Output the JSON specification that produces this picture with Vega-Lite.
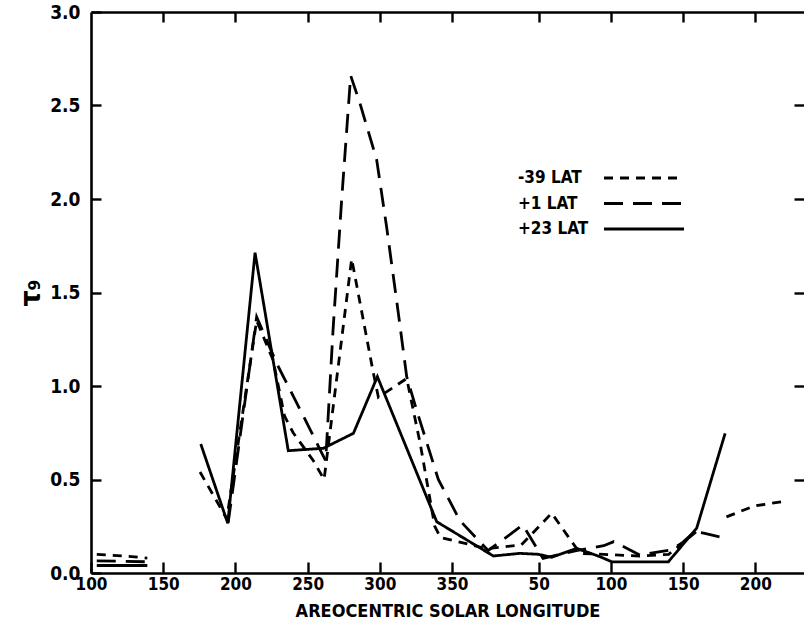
{
  "$schema": "https://vega.github.io/schema/vega-lite/v6.json",
  "width": 713,
  "height": 561,
  "autosize": {"type": "none"},
  "padding": {"left": 91, "top": 12, "right": 0, "bottom": 59},
  "background": "white",
  "config": {
    "view": {"stroke": null},
    "font": "Liberation Sans Narrow, DejaVu Sans Condensed, sans-serif",
    "axis": {"grid": false, "domainColor": "black", "tickColor": "black", "labelColor": "black", "titleColor": "black", "domainWidth": 2.6, "tickWidth": 2.4}
  },
  "data": {
    "values": [
      {"series": "-39 LAT", "seg": "a", "ls": 104, "tau": 0.10},
      {"series": "-39 LAT", "seg": "a", "ls": 125, "tau": 0.09},
      {"series": "-39 LAT", "seg": "a", "ls": 139, "tau": 0.08},
      {"series": "-39 LAT", "seg": "b", "ls": 175.5, "tau": 0.54},
      {"series": "-39 LAT", "seg": "b", "ls": 194, "tau": 0.29},
      {"series": "-39 LAT", "seg": "b", "ls": 214.7, "tau": 1.35},
      {"series": "-39 LAT", "seg": "b", "ls": 226, "tau": 1.14},
      {"series": "-39 LAT", "seg": "b", "ls": 234, "tau": 0.84},
      {"series": "-39 LAT", "seg": "b", "ls": 240, "tau": 0.75},
      {"series": "-39 LAT", "seg": "b", "ls": 254, "tau": 0.60},
      {"series": "-39 LAT", "seg": "b", "ls": 261.4, "tau": 0.50},
      {"series": "-39 LAT", "seg": "b", "ls": 280.5, "tau": 1.68},
      {"series": "-39 LAT", "seg": "b", "ls": 295.5, "tau": 1.07},
      {"series": "-39 LAT", "seg": "b", "ls": 299, "tau": 0.94},
      {"series": "-39 LAT", "seg": "b", "ls": 318.6, "tau": 1.04},
      {"series": "-39 LAT", "seg": "b", "ls": 328, "tau": 0.69},
      {"series": "-39 LAT", "seg": "b", "ls": 338, "tau": 0.25},
      {"series": "-39 LAT", "seg": "b", "ls": 342, "tau": 0.19},
      {"series": "-39 LAT", "seg": "b", "ls": 374, "tau": 0.13},
      {"series": "-39 LAT", "seg": "b", "ls": 398, "tau": 0.15},
      {"series": "-39 LAT", "seg": "b", "ls": 419, "tau": 0.32},
      {"series": "-39 LAT", "seg": "b", "ls": 438.6, "tau": 0.105},
      {"series": "-39 LAT", "seg": "b", "ls": 455, "tau": 0.10},
      {"series": "-39 LAT", "seg": "b", "ls": 480, "tau": 0.09},
      {"series": "-39 LAT", "seg": "b", "ls": 500, "tau": 0.10},
      {"series": "-39 LAT", "seg": "b", "ls": 519, "tau": 0.22},
      {"series": "-39 LAT", "seg": "c", "ls": 540, "tau": 0.30},
      {"series": "-39 LAT", "seg": "c", "ls": 559, "tau": 0.358},
      {"series": "-39 LAT", "seg": "c", "ls": 578, "tau": 0.381},
      {"series": "+1 LAT", "seg": "a", "ls": 104, "tau": 0.065},
      {"series": "+1 LAT", "seg": "a", "ls": 139, "tau": 0.06},
      {"series": "+1 LAT", "seg": "b", "ls": 195, "tau": 0.27},
      {"series": "+1 LAT", "seg": "b", "ls": 214.7, "tau": 1.37},
      {"series": "+1 LAT", "seg": "b", "ls": 228.6, "tau": 1.12},
      {"series": "+1 LAT", "seg": "b", "ls": 247, "tau": 0.84},
      {"series": "+1 LAT", "seg": "b", "ls": 258.6, "tau": 0.66},
      {"series": "+1 LAT", "seg": "b", "ls": 262.5, "tau": 0.60},
      {"series": "+1 LAT", "seg": "b", "ls": 267.6, "tau": 1.30},
      {"series": "+1 LAT", "seg": "b", "ls": 273.6, "tau": 2.0},
      {"series": "+1 LAT", "seg": "b", "ls": 279.8, "tau": 2.66},
      {"series": "+1 LAT", "seg": "b", "ls": 286.3, "tau": 2.51},
      {"series": "+1 LAT", "seg": "b", "ls": 297.8, "tau": 2.21},
      {"series": "+1 LAT", "seg": "b", "ls": 304.7, "tau": 1.85},
      {"series": "+1 LAT", "seg": "b", "ls": 312.8, "tau": 1.39},
      {"series": "+1 LAT", "seg": "b", "ls": 318.6, "tau": 1.05},
      {"series": "+1 LAT", "seg": "b", "ls": 325.5, "tau": 0.87},
      {"series": "+1 LAT", "seg": "b", "ls": 340.5, "tau": 0.50},
      {"series": "+1 LAT", "seg": "b", "ls": 355.5, "tau": 0.28},
      {"series": "+1 LAT", "seg": "b", "ls": 375, "tau": 0.12},
      {"series": "+1 LAT", "seg": "b", "ls": 399, "tau": 0.257},
      {"series": "+1 LAT", "seg": "b", "ls": 413, "tau": 0.078},
      {"series": "+1 LAT", "seg": "b", "ls": 436, "tau": 0.12},
      {"series": "+1 LAT", "seg": "b", "ls": 455, "tau": 0.146},
      {"series": "+1 LAT", "seg": "b", "ls": 462, "tau": 0.168},
      {"series": "+1 LAT", "seg": "b", "ls": 480, "tau": 0.096},
      {"series": "+1 LAT", "seg": "b", "ls": 501, "tau": 0.123},
      {"series": "+1 LAT", "seg": "b", "ls": 509, "tau": 0.159},
      {"series": "+1 LAT", "seg": "b", "ls": 518, "tau": 0.221},
      {"series": "+1 LAT", "seg": "b", "ls": 525, "tau": 0.212},
      {"series": "+1 LAT", "seg": "b", "ls": 540, "tau": 0.185},
      {"series": "+23 LAT", "seg": "a", "ls": 104, "tau": 0.04},
      {"series": "+23 LAT", "seg": "a", "ls": 139, "tau": 0.04},
      {"series": "+23 LAT", "seg": "b", "ls": 176, "tau": 0.69},
      {"series": "+23 LAT", "seg": "b", "ls": 194.7, "tau": 0.266},
      {"series": "+23 LAT", "seg": "b", "ls": 213.6, "tau": 1.713},
      {"series": "+23 LAT", "seg": "b", "ls": 236.6, "tau": 0.654},
      {"series": "+23 LAT", "seg": "b", "ls": 260.9, "tau": 0.667},
      {"series": "+23 LAT", "seg": "b", "ls": 281.7, "tau": 0.747},
      {"series": "+23 LAT", "seg": "b", "ls": 298.3, "tau": 1.05},
      {"series": "+23 LAT", "seg": "b", "ls": 339.4, "tau": 0.274},
      {"series": "+23 LAT", "seg": "b", "ls": 378.6, "tau": 0.091},
      {"series": "+23 LAT", "seg": "b", "ls": 397, "tau": 0.105},
      {"series": "+23 LAT", "seg": "b", "ls": 409.8, "tau": 0.10},
      {"series": "+23 LAT", "seg": "b", "ls": 419, "tau": 0.084},
      {"series": "+23 LAT", "seg": "b", "ls": 436.3, "tau": 0.132},
      {"series": "+23 LAT", "seg": "b", "ls": 452.5, "tau": 0.087},
      {"series": "+23 LAT", "seg": "b", "ls": 460.6, "tau": 0.06},
      {"series": "+23 LAT", "seg": "b", "ls": 499.8, "tau": 0.06},
      {"series": "+23 LAT", "seg": "b", "ls": 519.4, "tau": 0.24},
      {"series": "+23 LAT", "seg": "b", "ls": 539.1, "tau": 0.747}
    ]
  },
  "layer": [
    {
      "mark": {"type": "line", "color": "black", "strokeWidth": 2.8},
      "encoding": {
        "x": {
          "field": "ls", "type": "quantitative",
          "scale": {"domain": [100, 593.7], "nice": false, "zero": false},
          "axis": {
            "orient": "bottom",
            "values": [100, 150, 200, 250, 300, 350, 410, 460, 510, 560],
            "labelExpr": "datum.value > 360 ? format(datum.value - 360, 'd') : datum.label",
            "tickSize": -11, "labelPadding": 14,
            "labelFontSize": 17, "labelFontWeight": "bold",
            "labelFlush": false, "labelOverlap": false,
            "title": "AREOCENTRIC SOLAR LONGITUDE",
            "titleFontSize": 18, "titleFontWeight": "bold", "titlePadding": 10
          }
        },
        "y": {
          "field": "tau", "type": "quantitative",
          "scale": {"domain": [0, 3], "nice": false},
          "axis": {
            "orient": "left",
            "values": [0, 0.5, 1, 1.5, 2, 2.5, 3],
            "format": ".1f",
            "tickSize": -10, "labelPadding": 21,
            "labelFontSize": 19, "labelFontWeight": "bold",
            "labelFlush": false, "labelOverlap": false,
            "title": "τ₉", "titleFontSize": 28, "titleFontWeight": "bold", "titlePadding": 4
          }
        },
        "strokeDash": {
          "field": "series", "type": "nominal",
          "scale": {"domain": ["-39 LAT", "+1 LAT", "+23 LAT"], "range": [[9, 7], [19, 10], [1, 0]]},
          "legend": {
            "orient": "none", "legendX": 541.5, "legendY": 154.5,
            "title": null, "padding": 0,
            "symbolType": "M-4,0H4", "symbolSize": 400, "symbolStrokeWidth": 3, "symbolStrokeColor": "black", "symbolFillColor": "transparent",
            "labelFontSize": 17, "labelFontWeight": "bold", "labelColor": "black",
            "labelAlign": "left", "labelOffset": -137.5, "rowPadding": 5.5
          }
        },
        "detail": {"field": "seg"}
      }
    },
    {
      "mark": {"type": "line", "opacity": 0},
      "encoding": {
        "x": {
          "field": "ls", "type": "quantitative",
          "axis": {"orient": "top", "values": [150, 200, 250, 300, 350, 410, 460, 510, 560], "labels": false, "tickSize": -10, "title": null}
        },
        "y": {
          "field": "tau", "type": "quantitative",
          "axis": {"orient": "right", "values": [0.5, 1, 1.5, 2, 2.5], "labels": false, "tickSize": -10, "domain": false, "title": null}
        },
        "detail": {"field": "series"}
      }
    }
  ],
  "resolve": {"axis": {"x": "independent", "y": "independent"}}
}
